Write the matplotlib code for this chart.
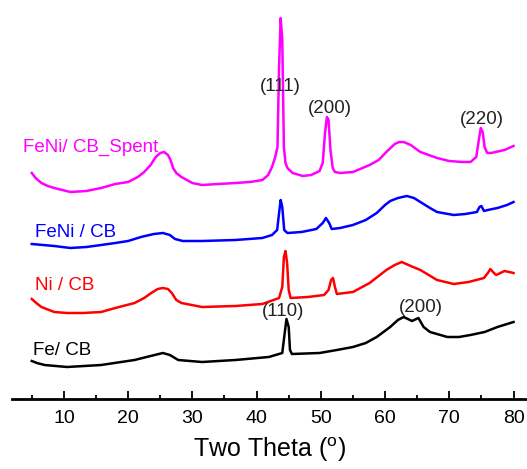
import matplotlib
matplotlib.use("Agg")
import matplotlib.pyplot as plt

plt.rcParams['font.family'] = ['Liberation Sans', 'DejaVu Sans']
plt.rcParams['mathtext.fontset'] = 'custom'
plt.rcParams['mathtext.rm'] = 'Liberation Sans'

# ---- data (2-theta in degrees, stacked intensity in a.u.) ----
theta_spent = [5.0, 5.6, 6.5, 7.5, 8.5, 11.0, 13.5, 15.8, 18.0, 20.0, 21.5, 22.5, 23.5, 24.3, 25.0, 25.6,
               26.2, 26.6, 27.0, 27.5, 28.3, 30.0, 31.5, 34.0, 36.7, 39.0, 40.9, 41.8, 42.4, 42.9,
               43.25, 43.5, 43.75, 44.0, 44.25, 44.5, 44.8, 45.6, 47.2, 48.5, 49.8, 50.3, 50.65,
               50.95, 51.2, 51.5, 51.85, 52.2, 53.0, 55.0, 57.6, 59.0, 60.2, 61.5, 62.2, 62.9, 64.0, 65.5,
               66.8, 68.1, 70.0, 72.0, 73.3, 74.2, 74.6, 74.9, 75.2, 75.5, 75.9, 76.5, 78.6, 80.0]
int_spent = [225, 220, 215, 212, 210, 206, 207, 210, 214, 216, 221, 226, 233, 241, 245, 246,
             243, 238, 230, 225, 221, 215, 213, 214, 215, 216, 218, 223, 231, 241,
             251, 331, 380, 358, 251, 235, 230, 225, 222, 223, 227, 235, 265,
             281, 278, 248, 230, 226, 225, 226, 233, 238, 246, 254, 256, 256, 253, 246,
             243, 240, 237, 236, 236, 241, 258, 270, 266, 251, 245, 245, 248, 252]

theta_feni = [5.0, 8.5, 11.0, 13.5, 15.8, 18.0, 20.0, 22.0, 24.0, 25.4, 26.5, 27.3, 28.5, 31.5,
              36.7, 40.9, 42.4, 43.2, 43.5, 43.75, 44.0, 44.3, 44.8, 47.0, 49.3, 50.3, 50.8,
              51.3, 51.7, 53.0, 55.0, 57.0, 58.7, 60.0, 60.8, 62.0, 63.4, 64.5, 65.5, 67.0,
              68.1, 70.7, 72.5, 74.3, 74.7, 75.0, 75.4, 76.0, 77.5, 79.0, 80.0]
int_feni = [154, 152, 150, 151, 153, 155, 157, 161, 164, 165, 163, 159, 157, 157,
            158, 160, 163, 168, 185, 198, 191, 168, 165, 166, 169, 175, 180,
            175, 169, 170, 173, 178, 185, 193, 197, 200, 202, 200, 196, 190,
            186, 183, 184, 186, 191, 192, 187, 188, 190, 193, 196]

theta_ni = [5.0, 5.7, 6.5, 8.5, 10.5, 13.0, 15.8, 18.0, 21.0, 22.5, 23.6, 24.6, 25.4, 26.2, 26.8,
            27.5, 28.3, 31.5, 36.7, 40.9, 43.5, 44.0, 44.25, 44.5, 44.75, 45.0, 45.3, 48.0,
            50.5, 51.2, 51.6, 51.9, 52.2, 52.5, 55.0, 57.6, 60.2, 61.5, 62.6, 64.0, 65.5,
            68.1, 70.7, 73.0, 75.4, 76.0, 76.4, 76.8, 77.3, 78.6, 80.0]
int_ni = [99, 95, 91, 86, 85, 85, 86, 90, 95, 100, 105, 109, 110, 109, 105,
          98, 95, 91, 92, 94, 100, 111, 141, 147, 135, 108, 100, 101,
          103, 108, 118, 120, 111, 104, 106, 115, 128, 133, 136, 132, 128,
          118, 114, 116, 120, 125, 129, 126, 123, 127, 125]

theta_fe = [5.0, 5.8, 7.0, 10.5, 15.8, 21.0, 23.5, 25.4, 26.5, 27.8, 31.5, 36.7, 41.9, 44.0, 44.3,
            44.65, 45.0, 45.2, 45.5, 49.8, 52.5, 55.0, 57.0, 58.7, 60.8, 62.0, 62.9, 64.2,
            65.2, 66.0, 67.0, 69.7, 71.5, 73.3, 75.5, 77.5, 79.0, 80.0]
int_fe = [37, 35, 33, 31, 33, 38, 42, 45, 43, 38, 36, 38, 41, 45, 61,
          79, 71, 48, 44, 45, 48, 51, 55, 61, 71, 78, 81, 77,
          80, 71, 66, 61, 61, 63, 66, 71, 74, 76]

sample_labels = ["FeNi/ CB_Spent", "FeNi / CB", "Ni / CB", "Fe/ CB"]
sample_colors = ["#FF00FF", "#0000FF", "#FF0000", "#000000"]
label_pos = [(3.68, 251), (5.5, 166), (5.5, 113), (5.24, 48)]

peak_labels = ["(111)", "(200)", "(220)", "(110)", "(200)"]
peak_pos = [(43.77, 312), (51.35, 290), (75.1, 279), (44.08, 87), (65.5, 91)]

xticks = [10, 20, 30, 40, 50, 60, 70, 80]

# ---- figure ----
fig = plt.figure(figsize=(5.27, 4.69), dpi=100)
ax = fig.add_axes([11.8 / 527, 1 - 398.5 / 469, (527 - 11.8) / 527, 398.5 / 469])

series = [(theta_spent, int_spent), (theta_feni, int_feni), (theta_ni, int_ni), (theta_fe, int_fe)]
for (tx, iy), col in zip(series, sample_colors):
    ax.plot(tx, iy, color=col, lw=1.8, solid_joinstyle='round')

for txt, col, (px, py) in zip(sample_labels, sample_colors, label_pos):
    ax.text(px, py, txt, color=col, fontsize=13.5, ha='left', va='center')

for txt, (px, py) in zip(peak_labels, peak_pos):
    ax.text(px, py, txt, color='#222222', fontsize=13.5, ha='center', va='center')

ax.set_xlim(1.89, 82.1)
ax.set_ylim(-0.5, 398)
ax.set_xticks(xticks)
ax.set_xticks([5, 15, 25, 35, 45, 55, 65, 75], minor=True)
ax.tick_params(axis='x', which='major', direction='in', length=6, width=1.3,
               labelsize=14, pad=8)
ax.tick_params(axis='x', which='minor', direction='in', length=3, width=1.3)
ax.set_yticks([])
for s in ['left', 'right', 'top']:
    ax.spines[s].set_visible(False)
ax.spines['bottom'].set_linewidth(2)
ax.set_xlabel(r'Two Theta ($^{\mathregular{o}}$)', fontsize=18, labelpad=6)
ax.patch.set_alpha(0)

fig.savefig("out.png", dpi=100)
